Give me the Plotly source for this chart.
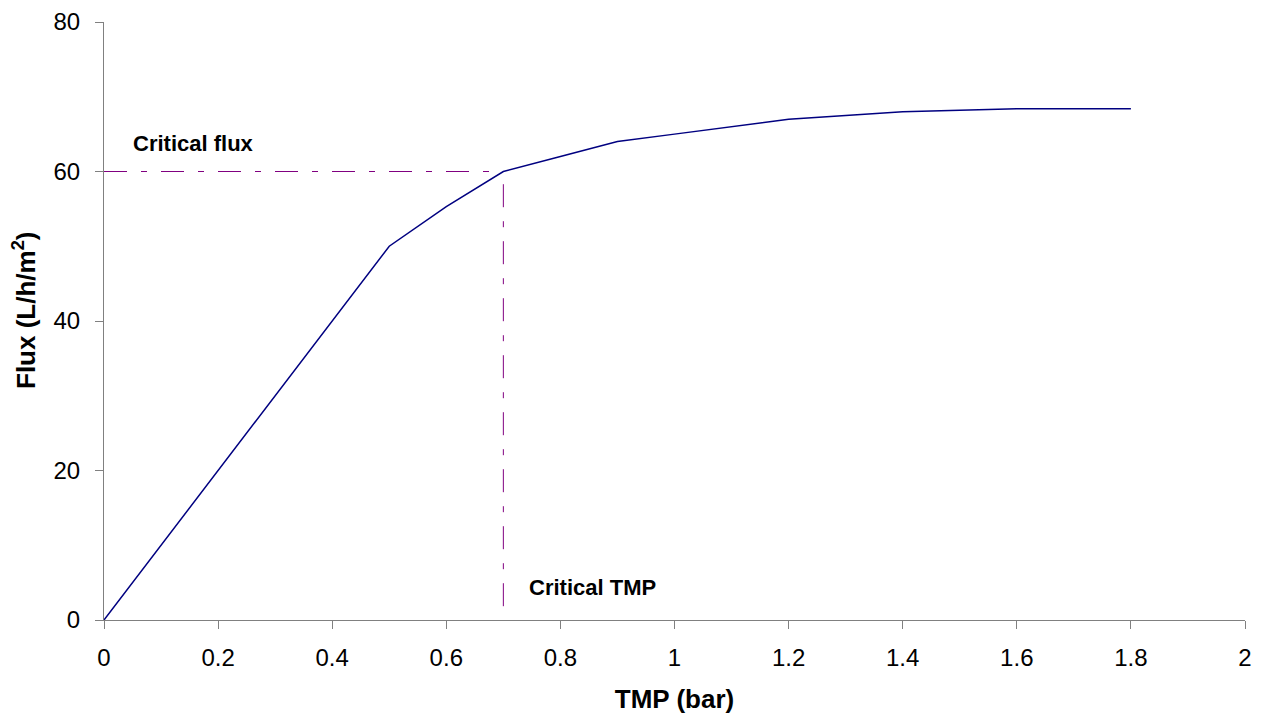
import plotly.graph_objects as go

tmp = [0, 0.1, 0.2, 0.3, 0.4, 0.5, 0.6, 0.7, 0.8, 0.9, 1.0, 1.1, 1.2, 1.3, 1.4, 1.5, 1.6, 1.7, 1.8]
flux = [0, 10, 20, 30, 40, 50, 55.3, 60, 62, 64, 65, 66, 67, 67.5, 68, 68.2, 68.4, 68.4, 68.4]

critical_tmp = 0.7
critical_flux = 60

x_ticks = [0, 0.2, 0.4, 0.6, 0.8, 1, 1.2, 1.4, 1.6, 1.8, 2]
x_labels = ["0", "0.2", "0.4", "0.6", "0.8", "1", "1.2", "1.4", "1.6", "1.8", "2"]
y_ticks = [0, 20, 40, 60, 80]

dash = "23px,14px,6px,14px"
purple = "#800080"

fig = go.Figure()
fig.add_trace(go.Scatter(x=[0, critical_tmp], y=[critical_flux, critical_flux], mode="lines",
                         line=dict(color=purple, width=1, dash=dash), hoverinfo="skip"))
fig.add_trace(go.Scatter(x=[critical_tmp, critical_tmp], y=[critical_flux - 1.7, 0], mode="lines",
                         line=dict(color=purple, width=1, dash=dash), hoverinfo="skip"))
fig.add_trace(go.Scatter(x=tmp, y=flux, mode="lines", line=dict(color="#000080", width=1.5)))

fig.add_annotation(x=0.048, y=63.7, text="<b>Critical flux</b>", showarrow=False,
                   xanchor="left", yanchor="middle", font=dict(size=22, color="black"))
fig.add_annotation(x=0.742, y=4.4, text="<b>Critical TMP</b>", showarrow=False,
                   xanchor="left", yanchor="middle", font=dict(size=22, color="black"))
fig.add_annotation(xref="paper", yref="paper", x=(24 - 104) / 1141, y=(620 - 311) / 598,
                   text="<b>Flux (L/h/m<sup>2</sup>)</b>", textangle=-90, showarrow=False,
                   xanchor="center", yanchor="middle", font=dict(size=26, color="black"))

axis_common = dict(showgrid=False, zeroline=False, showline=True, linecolor="#808080", linewidth=1,
                   ticks="outside", ticklen=8, tickcolor="#808080", automargin=False,
                   tickfont=dict(size=24, color="black"))
fig.update_xaxes(range=[0, 2], tickvals=x_ticks, ticktext=x_labels, ticklabelstandoff=8,
                 title=dict(text="<b>TMP (bar)</b>", font=dict(size=26, color="black"), standoff=20),
                 **axis_common)
fig.update_yaxes(range=[0, 80], tickvals=y_ticks, ticklabelstandoff=10, **axis_common)

fig.update_layout(width=1264, height=719, showlegend=False,
                  plot_bgcolor="white", paper_bgcolor="white",
                  font=dict(family="Liberation Sans, Arial, sans-serif", color="black"),
                  margin=dict(l=104, r=19, t=22, b=99, autoexpand=False))
fig.write_html("out.html", config={"displayModeBar": False},
               post_script="document.body.style.margin='0';")
